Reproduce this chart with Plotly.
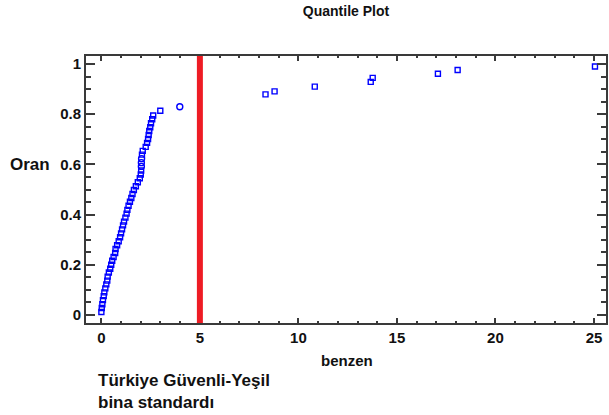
import plotly.graph_objects as go

# ---- data ----
square_x = [0.00, 0.02, 0.05, 0.08, 0.12, 0.15, 0.20, 0.25, 0.30, 0.32,
            0.38, 0.45, 0.50, 0.55, 0.62, 0.70, 0.72, 0.80, 0.88, 0.95,
            1.00, 1.05, 1.10, 1.15, 1.22, 1.28, 1.32, 1.38, 1.45, 1.52,
            1.58, 1.65, 1.75, 1.85, 1.95, 2.00, 2.02,
            2.06, 2.10, 2.25, 2.32, 2.37, 2.40, 2.43, 2.48, 2.52, 2.58, 2.63,
            2.99, 8.33, 8.79, 10.83, 13.67, 13.77, 17.08, 18.08, 25.05]
square_y = [0.012, 0.028, 0.043, 0.059, 0.075, 0.090, 0.106, 0.122, 0.137, 0.153,
            0.169, 0.184, 0.200, 0.216, 0.231, 0.247, 0.263, 0.278, 0.294, 0.310,
            0.325, 0.341, 0.357, 0.372, 0.388, 0.404, 0.419, 0.435, 0.451, 0.466,
            0.482, 0.498, 0.513, 0.529, 0.545, 0.560, 0.576,
            0.639, 0.654, 0.670, 0.686, 0.701, 0.717, 0.733, 0.748, 0.764, 0.780, 0.795,
            0.814, 0.879, 0.891, 0.910, 0.929, 0.945, 0.961, 0.976, 0.990]
circle_x = [2.03, 2.03, 2.04, 3.98]
circle_y = [0.592, 0.607, 0.623, 0.830]

limit_value = 5.0
x_ticks = [0, 5, 10, 15, 20, 25]
y_ticks = [0, 0.2, 0.4, 0.6, 0.8, 1]
y_tick_text = ["0", "0.2", "0.4", "0.6", "0.8", "1"]

W, H = 609, 415
L, R, T, B = 86, 1, 56, 92
FONT = "Arial, Liberation Sans, sans-serif"
BLUE = "#0000ff"
AX = "#3a3a3a"
TXT = "#111111"

fig = go.Figure()
fig.add_trace(go.Scatter(
    x=square_x, y=square_y, mode="markers",
    marker=dict(symbol="square-open", size=5, color=BLUE, line=dict(width=1.4, color=BLUE)),
    showlegend=False, hoverinfo="x+y"))
fig.add_trace(go.Scatter(
    x=circle_x, y=circle_y, mode="markers",
    marker=dict(symbol="circle-open", size=6, color=BLUE, line=dict(width=1.4, color=BLUE)),
    showlegend=False, hoverinfo="x+y"))

fig.add_shape(type="line", xref="x", yref="paper", x0=limit_value, x1=limit_value,
              y0=0, y1=1, line=dict(color="#ee1c24", width=6), layer="above")

fig.update_layout(
    width=W, height=H,
    margin=dict(l=L, r=R, t=T, b=B),
    paper_bgcolor="white", plot_bgcolor="white",
    font=dict(family=FONT, color=TXT),
    title=dict(text="Quantile Plot", x=0.5, xref="paper", xanchor="center",
               y=1 - 11 / H, yref="container", yanchor="middle",
               font=dict(family=FONT, size=14, weight="bold", color=TXT)),
    xaxis=dict(range=[-0.78, 25.61], tickvals=x_ticks, ticks="inside", ticklen=5,
               tickwidth=1.5, tickcolor=AX, showline=True, linecolor=AX, linewidth=2,
               mirror="ticks", showgrid=False, zeroline=False,
               tickfont=dict(family=FONT, size=15, weight="bold", color=TXT),
               minor=dict(dtick=1, ticks="inside", ticklen=2, tickcolor=AX, tickwidth=1.5)),
    yaxis=dict(range=[-0.032, 1.032], tickvals=y_ticks, ticktext=y_tick_text,
               ticks="inside", ticklen=9, tickwidth=1.5, tickcolor=AX,
               showline=True, linecolor=AX, linewidth=2, mirror="ticks",
               showgrid=False, zeroline=False,
               tickfont=dict(family=FONT, size=15, weight="bold", color=TXT),
               minor=dict(dtick=0.05, ticks="inside", ticklen=5, tickcolor=AX, tickwidth=1.5)),
)

pw = W - L - R
ph = H - T - B


def px_to_paper(px, py):
    return (px - L) / pw, (H - py - B) / ph


annos = [
    ("Oran", 8, 164, "left", 17),
    ("benzen", 348, 360, "center", 15),
    ("Türkiye Güvenli-Yeşil<br>bina standardı", 96, 391, "left", 17),
]
for text, px, py, xa, size in annos:
    ax_, ay_ = px_to_paper(px, py)
    fig.add_annotation(text=text, x=ax_, y=ay_, xref="paper", yref="paper",
                       xanchor=xa, yanchor="middle", align="left", showarrow=False,
                       font=dict(family=FONT, size=size, weight="bold", color=TXT))

fig.write_html("out.html", config={"displayModeBar": False},
               post_script="document.body.style.margin='0';document.body.style.overflow='hidden';")
